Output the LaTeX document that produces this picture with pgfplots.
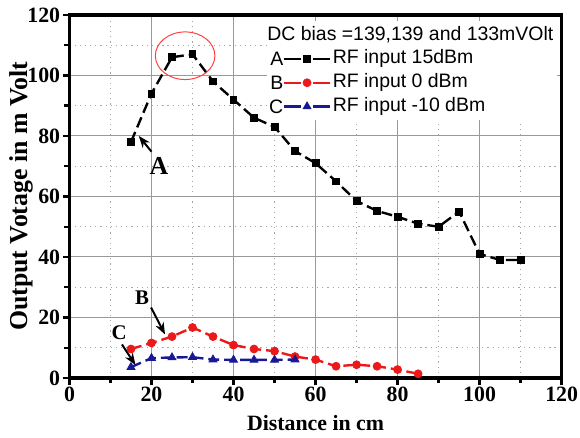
\documentclass[border=0pt]{standalone}
\usepackage{fontspec}
\setmainfont{Liberation Serif}
\newfontfamily\arial{Liberation Sans}
\usepackage{pgfplots}
\pgfplotsset{compat=1.18}
\usetikzlibrary{arrows.meta}
\definecolor{ared}{RGB}{235,25,25}
\definecolor{cblue}{RGB}{25,25,150}

% legend sample with a letter in front of the line
\pgfplotsset{
  lab/.style={legend image code/.code={
    \node[font=\arial\fontsize{9.8}{10}\selectfont, text=black, anchor=base east,
      inner sep=0pt] at (0pt,-3.5pt) {#1};
    \draw[##1, dash pattern=on 8.5pt off 5.7pt, mark repeat=2, mark phase=2]
      plot coordinates {(0cm,0cm)(0.4cm,0cm)(0.8cm,0cm)};}},
}

\begin{document}
\begin{tikzpicture}
\begin{axis}[
  width=248pt, height=183pt,
  scale only axis,
  xmin=0, xmax=120, ymin=0, ymax=120,
  xtick={0,20,...,120}, ytick={0,20,...,120},
  minor tick num=1,
  tick pos=left, tick align=outside,
  major tick length=3.5pt, minor tick length=2.5pt,
  tick style={black, line width=1.2pt},
  grid=both,
  major grid style={gray!80, line width=0.5pt, solid},
  minor grid style={gray!70, line width=0.6pt, dotted},
  axis line style={line width=1.8pt},
  /pgf/number format/assume math mode=true,
  ticklabel style={font=\bfseries\fontsize{11}{12}\selectfont, inner sep=1pt},
  xlabel style={font=\bfseries\fontsize{11}{12}\selectfont, yshift=-2pt},
  ylabel style={font=\bfseries\fontsize{13}{14}\selectfont, yshift=-7.5pt},
  xlabel={Distance in cm},
  ylabel={Output Votage in m Volt},
  legend cell align=left,
  legend style={at={(rel axis cs:1,1)}, anchor=north east, xshift=-2pt, yshift=-3pt,
    draw=none, fill=white, font=\arial\fontsize{9.8}{10}\selectfont,
    row sep=0pt, inner sep=1pt,
    nodes={text height=7.5pt, text depth=2.5pt, inner sep=1pt}},
]
\addlegendimage{empty legend}
\addlegendentry{\hspace*{-33pt}DC bias =139,139 and 133mVOlt}

\addplot[black, line width=1.2pt, dash pattern=on 5.5pt off 2.5pt,
  mark=square*, mark size=1.7pt, mark options={solid, line width=0.4pt}, lab=A]
coordinates {
(15,78)(20,94)(25,106)(30,107)(35,98)(40,92)(45,86)(50,83)(55,75)(60,71)
(65,65)(70,58.5)(75,55.2)(80,53.3)(85,51)(90,50)(95,55)(100,41)(105,39)(110,39)
};
\addlegendentry{RF input 15dBm}

\addplot[ared, line width=1.2pt, dash pattern=on 5.5pt off 2.5pt,
  mark=*, mark size=2pt, mark options={solid, line width=0.4pt}, lab=B]
coordinates {
(15,9.6)(20,11.6)(25,13.7)(30,16.7)(35,13.7)(40,10.9)(45,9.6)(50,8.9)
(55,7.1)(60,6.1)(65,3.9)(70,4.4)(75,3.9)(80,2.8)(85,1.4)
};
\addlegendentry{RF input 0 dBm}

\addplot[cblue, line width=1.2pt, dash pattern=on 5.5pt off 2.5pt,
  mark=triangle*, mark size=2.3pt, mark options={solid, line width=0.4pt}, lab=C]
coordinates {
(15,3.6)(20,6.6)(25,6.8)(30,6.9)(35,6.1)(40,6)(45,6)(50,6)(55,6.1)
};
\addlegendentry{RF input -10 dBm}

% hand-drawn annotations
\draw[red!75, line width=0.5pt] (axis cs:28.2,106.5) ellipse [x radius=15pt, y radius=12pt];
\draw[black, line width=1pt, -{Stealth[length=6pt,width=4.5pt]}] (axis cs:20,74.8) -- (axis cs:16.9,80);
\node[font=\bfseries\fontsize{13}{14}\selectfont] at (axis cs:21.8,70) {A};
\draw[black, line width=1pt, -{Stealth[length=6pt,width=4.5pt]}] (axis cs:19.9,23.3) -- (axis cs:23.3,14.4);
\node[font=\bfseries\fontsize{10.5}{11}\selectfont] at (axis cs:17.7,26.6) {B};
\draw[black, line width=1pt, -{Stealth[length=6pt,width=4.5pt]}] (axis cs:12.8,11.1) -- (axis cs:16.1,4.3);
\node[font=\bfseries\fontsize{10.5}{11}\selectfont] at (axis cs:12.1,15.1) {C};
\end{axis}
% white space above and left of the axis, as in the reference
\path ([yshift=7.5pt]current axis.north) ([xshift=-35pt]current axis.west);
\end{tikzpicture}
\end{document}
